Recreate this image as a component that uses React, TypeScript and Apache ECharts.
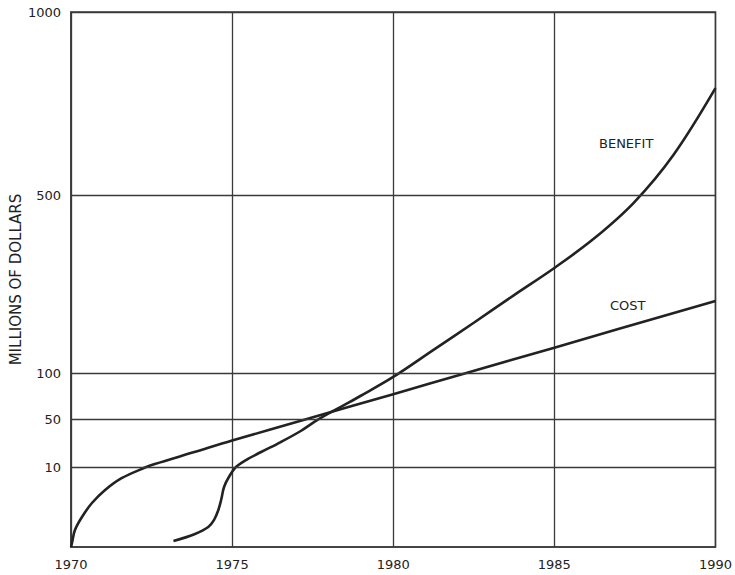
import React, { useEffect, useRef } from "react";
import * as echarts from "echarts";

// Y tick labels and the (hand-drawn, non-uniform) scale knots of the original chart
const yTickValues = [10, 50, 100, 500, 1000];
const scaleKnotValues = [0, 10, 50, 100, 500, 1000];
const scaleKnotPositions = [0, 80, 128, 174, 352, 535];

const costYears = [1970, 1970.03, 1970.12, 1970.34, 1970.65, 1971.05, 1971.57, 1972.28, 1972.6, 1973.8, 1975, 1977.32, 1980, 1982.27, 1985, 1990];
const costValues = [0, 0.5, 2.1, 3.75, 5.5, 7.1, 8.6, 9.9, 12.5, 22.2, 32, 50, 77, 100, 157, 262];

const benefitYears = [1973.18, 1973.83, 1974.26, 1974.44, 1974.57, 1974.66, 1974.75, 1974.9, 1975.12, 1975.43, 1975.9, 1976.51, 1977.13, 1977.65, 1978.36, 1978.98, 1980, 1981.25, 1982.5, 1983.75, 1985, 1986.23, 1987.47, 1988.7, 1990];
const benefitValues = [0.75, 1.6, 2.5, 3.4, 4.6, 5.9, 7.5, 8.75, 10, 15.8, 22.5, 30.8, 40, 49.2, 63, 75, 95.7, 152, 213, 275, 336, 402, 483, 610, 792];

function toPos(v: number): number {
  for (let i = 1; i < scaleKnotValues.length; i++) {
    if (v <= scaleKnotValues[i]) {
      const v0 = scaleKnotValues[i - 1];
      const v1 = scaleKnotValues[i];
      const p0 = scaleKnotPositions[i - 1];
      const p1 = scaleKnotPositions[i];
      return p0 + ((v - v0) / (v1 - v0)) * (p1 - p0);
    }
  }
  return scaleKnotPositions[scaleKnotPositions.length - 1];
}

const FONT = "'DejaVu Sans', 'Liberation Sans', Arial, sans-serif";
const INK = "#222";
const GRID = "#3a3a3a";

export default function App() {
  const ref = useRef<HTMLDivElement>(null);
  useEffect(() => {
    if (!ref.current) return;
    const chart = echarts.init(ref.current, undefined, { renderer: "svg" });
    const cost = costYears.map((y, i) => [y, toPos(costValues[i])]);
    const benefit = benefitYears.map((y, i) => [y, toPos(benefitValues[i])]);
    chart.setOption({
      animation: false,
      backgroundColor: "#fff",
      grid: {
        left: 69,
        right: 18,
        top: 12,
        bottom: 28,
        show: true,
        borderColor: GRID,
        borderWidth: 1.5,
        backgroundColor: "transparent",
      },
      xAxis: {
        type: "value",
        min: 1970,
        max: 1990,
        interval: 5,
        axisLine: { show: true, lineStyle: { color: GRID, width: 1.5 } },
        axisTick: { show: false },
        axisLabel: {
          color: INK,
          fontSize: 13,
          fontFamily: FONT,
          margin: 11,
          formatter: (v: number) => String(v),
        },
        splitLine: { show: true, lineStyle: { color: GRID, width: 1.3 } },
      },
      yAxis: {
        type: "value",
        min: 0,
        max: scaleKnotPositions[scaleKnotPositions.length - 1],
        name: "MILLIONS OF DOLLARS",
        nameLocation: "middle",
        nameRotate: 90,
        nameGap: 48,
        nameTextStyle: { color: INK, fontSize: 15, fontFamily: FONT },
        axisLine: { show: true, lineStyle: { color: GRID, width: 1.5 } },
        axisTick: { show: false },
        axisLabel: { show: false },
        splitLine: { show: false },
      },
      graphic: [
        {
          type: "text",
          left: 599,
          top: 137,
          style: { text: "BENEFIT", fill: INK, font: `13px ${FONT}` },
        },
        {
          type: "text",
          left: 610,
          top: 299,
          style: { text: "COST", fill: INK, font: `13px ${FONT}` },
        },
      ],
      series: [
        {
          type: "line",
          name: "grid",
          data: [],
          markLine: {
            silent: true,
            symbol: "none",
            lineStyle: { color: GRID, width: 1.3, type: "solid" },
            label: {
              show: true,
              position: "start",
              distance: 10,
              color: INK,
              fontSize: 13,
              fontFamily: FONT,
              formatter: (p: any) => String(p.data.tick),
            },
            data: yTickValues.map((v) => ({ yAxis: toPos(v), tick: v })),
          },
        },
        {
          type: "line",
          name: "COST",
          data: cost,
          smooth: 0.35,
          showSymbol: false,
          lineStyle: { color: INK, width: 2.6 },
        },
        {
          type: "line",
          name: "BENEFIT",
          data: benefit,
          smooth: 0.35,
          showSymbol: false,
          lineStyle: { color: INK, width: 2.6 },
        },
      ],
    });
    return () => chart.dispose();
  }, []);
  return (
    <div
      ref={ref}
      style={{ position: "fixed", left: 0, top: 0, width: 735, height: 575 }}
    />
  );
}
